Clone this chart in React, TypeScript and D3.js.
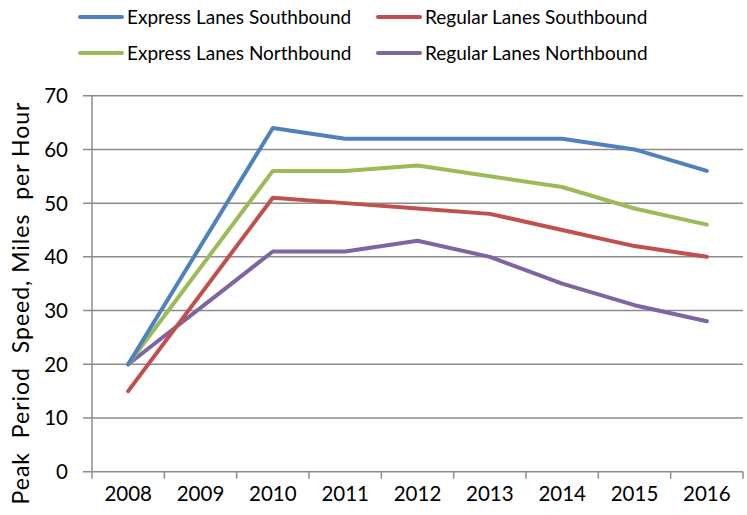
import React from "react";
import * as d3 from "d3";

const years = ["2008", "2009", "2010", "2011", "2012", "2013", "2014", "2015", "2016"];
const expressSouth: (number | null)[] = [20, null, 64, 62, 62, 62, 62, 60, 56];
const regularSouth: (number | null)[] = [15, null, 51, 50, 49, 48, 45, 42, 40];
const expressNorth: (number | null)[] = [20, null, 56, 56, 57, 55, 53, 49, 46];
const regularNorth: (number | null)[] = [20, null, 41, 41, 43, 40, 35, 31, 28];
const yTicks = [0, 10, 20, 30, 40, 50, 60, 70];

const series = [
  { name: "Express Lanes Southbound", values: expressSouth, color: "#4F81BD" },
  { name: "Regular Lanes Southbound", values: regularSouth, color: "#C0504D" },
  { name: "Express Lanes Northbound", values: expressNorth, color: "#9BBB59" },
  { name: "Regular Lanes Northbound", values: regularNorth, color: "#8064A2" },
];
const drawOrder = [3, 1, 2, 0];

export default function App() {
  const W = 747, H = 515;
  const left = 92, right = 743, top = 95.7, bottom = 471.7;
  const x = d3.scaleBand().domain(years).range([left, right]);
  const y = d3.scaleLinear().domain([0, 70]).range([bottom, top]);
  const font = "Lato, 'Noto Sans', sans-serif";

  const pts = (vals: (number | null)[]) =>
    years
      .map((yr, i) => ({ yr, v: vals[i] }))
      .filter((d) => d.v !== null) as { yr: string; v: number }[];

  const line = d3
    .line<{ yr: string; v: number }>()
    .x((d) => (x(d.yr) as number) + x.bandwidth() / 2)
    .y((d) => y(d.v));

  const legendPos = [
    { x: 80, y: 17 },
    { x: 378, y: 17 },
    { x: 80, y: 53 },
    { x: 378, y: 53 },
  ];

  return (
    <svg width={W} height={H} style={{ position: "absolute", left: 0, top: 0, background: "#fff" }}>
      {yTicks.map((t) => (
        <g key={t}>
          <line x1={left - 9} x2={right} y1={y(t)} y2={y(t)} stroke="#8C8C8C" strokeWidth={1.5} />
          <text x={68} y={y(t)} dy="0.36em" textAnchor="end" fontFamily={font} fontSize={20.5} fill="#000">
            {t}
          </text>
        </g>
      ))}
      <line x1={left} x2={left} y1={top} y2={bottom} stroke="#8C8C8C" strokeWidth={1.5} />
      {[...years.map((yr) => x(yr) as number), right].map((px, i) => (
        <line key={i} x1={px} x2={px} y1={bottom} y2={bottom + 7} stroke="#8C8C8C" strokeWidth={1.5} />
      ))}
      {years.map((yr) => (
        <text
          key={yr}
          x={(x(yr) as number) + x.bandwidth() / 2}
          y={501}
          textAnchor="middle"
          fontFamily={font}
          fontSize={20.5}
          fill="#000"
        >
          {yr}
        </text>
      ))}
      <text
        transform={`translate(29,303) rotate(-90)`}
        textAnchor="middle"
        fontFamily={font}
        fontSize={23}
        letterSpacing={1.0}
        fill="#000"
        style={{ whiteSpace: "pre" }}
      >
        {"Peak  Period  Speed, Miles  per Hour"}
      </text>
      {drawOrder.map((i) => (
        <path
          key={series[i].name}
          d={line(pts(series[i].values)) || ""}
          fill="none"
          stroke={series[i].color}
          strokeWidth={4}
          strokeLinejoin="round"
          strokeLinecap="round"
        />
      ))}
      {series.map((s, i) => (
        <g key={s.name}>
          <line
            x1={legendPos[i].x}
            x2={legendPos[i].x + 42}
            y1={legendPos[i].y}
            y2={legendPos[i].y}
            stroke={s.color}
            strokeWidth={4}
            strokeLinecap="round"
          />
          <text
            x={legendPos[i].x + 47}
            y={legendPos[i].y}
            dy="0.36em"
            fontFamily={font}
            fontSize={19}
            fill="#000"
          >
            {s.name}
          </text>
        </g>
      ))}
    </svg>
  );
}
